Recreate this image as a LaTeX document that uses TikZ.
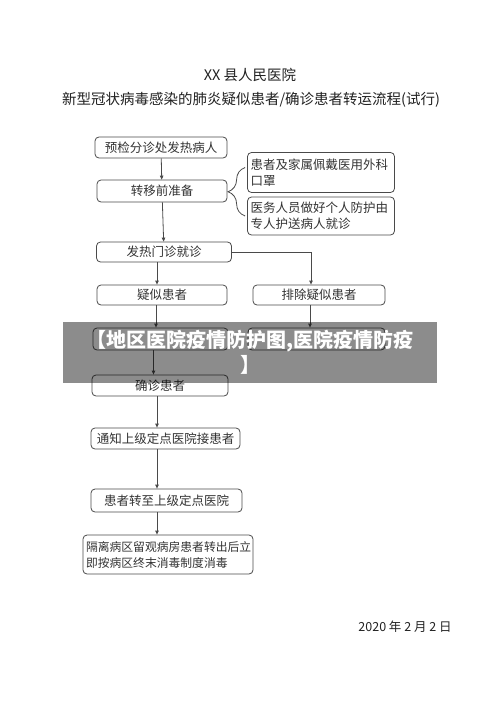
\documentclass[tikz,border=0pt]{standalone}
\usepackage{fontspec}
\newfontfamily\cjk{Noto Sans CJK SC}
\usetikzlibrary{positioning, arrows.meta, decorations.pathreplacing}
\definecolor{boxline}{HTML}{4A4A4A}
\definecolor{boxtext}{HTML}{333333}
\definecolor{titletext}{HTML}{222222}

\tikzset{
  flowbox/.style={draw=boxline, line width=0.8pt, rounded corners=4pt, text=boxtext,
    font=\cjk\fontsize{12.5}{16}\selectfont, inner sep=2pt, minimum height=21pt},
  notebox/.style={flowbox, align=left, text width=141pt, inner sep=3pt},
  flowarrow/.style={draw=boxline, line width=0.8pt, -{Triangle[length=4pt,width=3.5pt]}},
}

\begin{document}
\begin{tikzpicture}[x=1pt, y=-1pt]
  \useasboundingbox (0,0) rectangle (500,706);
  \fill[white] (0,0) rectangle (500,706);

  % titles
  \node[text=titletext, font=\cjk\fontsize{14.5}{18}\selectfont] (title) at (250,75) {XX 县人民医院};
  \node[text=titletext, font=\cjk\fontsize{14.5}{18}\selectfont] (subtitle) at (251,100)
    {新型冠状病毒感染的肺炎疑似患者/确诊患者转运流程(试行)};

  % main column
  \node[flowbox, minimum width=132pt] (triage) at (161,147.5) {预检分诊处发热病人};
  \node[flowbox, minimum width=130pt, minimum height=22pt] (prepare) at (162,191) {转移前准备};
  \node[notebox, minimum height=40pt] (mask) at (321,172.5) {患者及家属佩戴医用外科\\口罩};
  \node[notebox, minimum height=38pt] (escort) at (321,216) {医务人员做好个人防护由\\专人护送病人就诊};
  \node[flowbox, minimum width=135pt, minimum height=20pt] (fever) at (164,252) {发热门诊就诊};
  \node[flowbox, minimum width=130pt, minimum height=20pt] (suspect) at (162,295) {疑似患者};
  \node[flowbox, minimum width=132pt, minimum height=20pt] (exclude) at (319,295) {排除疑似患者};
  \node[flowbox, minimum width=135pt, minimum height=22pt] (hiddenL) at (160.5,339) {};
  \node[flowbox, minimum width=137pt, minimum height=22pt] (hiddenR) at (316.5,339) {};
  \node[flowbox, minimum width=136pt] (confirm) at (160,385.5) {确诊患者};
  \node[flowbox, minimum width=149pt] (notify) at (165.5,438.5) {通知上级定点医院接患者};
  \node[flowbox, minimum width=151pt, minimum height=23pt] (transfer) at (166.5,500.5) {患者转至上级定点医院};
  \node[flowbox, align=left, text width=164pt, inner sep=3pt, minimum height=39pt,
    font=\cjk\fontsize{11.8}{16}\selectfont] (disinfect) at (168,554.5)
    {隔离病区留观病房患者转出后立\\即按病区终末消毒制度消毒};

  \coordinate (spine) at (157,0);

  % connectors
  \draw[flowarrow] (triage) -- (prepare);
  \draw[flowarrow] (prepare) -- (fever);
  \draw[flowarrow] (fever.south -| spine) -- (suspect.north -| spine);
  \draw[flowarrow] (fever.east) -| ([xshift=-8pt]exclude.north);
  \draw[flowarrow] ([xshift=-6pt]suspect.south) -- ([xshift=-6pt]suspect.south |- hiddenL.north);
  \draw[flowarrow] ([xshift=-9pt]exclude.south) -- ([xshift=-9pt]exclude.south |- hiddenR.north);
  \draw[flowarrow] ([xshift=-7pt]hiddenL.south) -- ([xshift=-7pt]hiddenL.south |- confirm.north);
  \draw[flowarrow] (confirm.south -| spine) -- (notify.north -| spine);
  \draw[flowarrow] (notify.south -| spine) -- (transfer.north -| spine);
  \draw[flowarrow] (transfer.south -| spine) -- (disinfect.north -| spine);
  \draw[boxline, line width=0.8pt, decorate, decoration={brace, amplitude=17pt}]
    ([xshift=-2pt]escort.west) -- ([xshift=-2pt, yshift=5pt]mask.west);

  % date
  \node[text=titletext, font=\cjk\fontsize{12.5}{16}\selectfont] (date) at (405,627) {2020 年 2 月 2 日};

  % overlay band
  \node[fill=black, fill opacity=0.45, text opacity=1, text=white, inner sep=0pt,
    minimum width=374pt, minimum height=61pt, align=center,
    font=\cjk\bfseries\fontsize{20}{25}\selectfont] (band) at (250,352.5)
    {【地区医院疫情防护图,医院疫情防疫\\】};
\end{tikzpicture}
\end{document}
